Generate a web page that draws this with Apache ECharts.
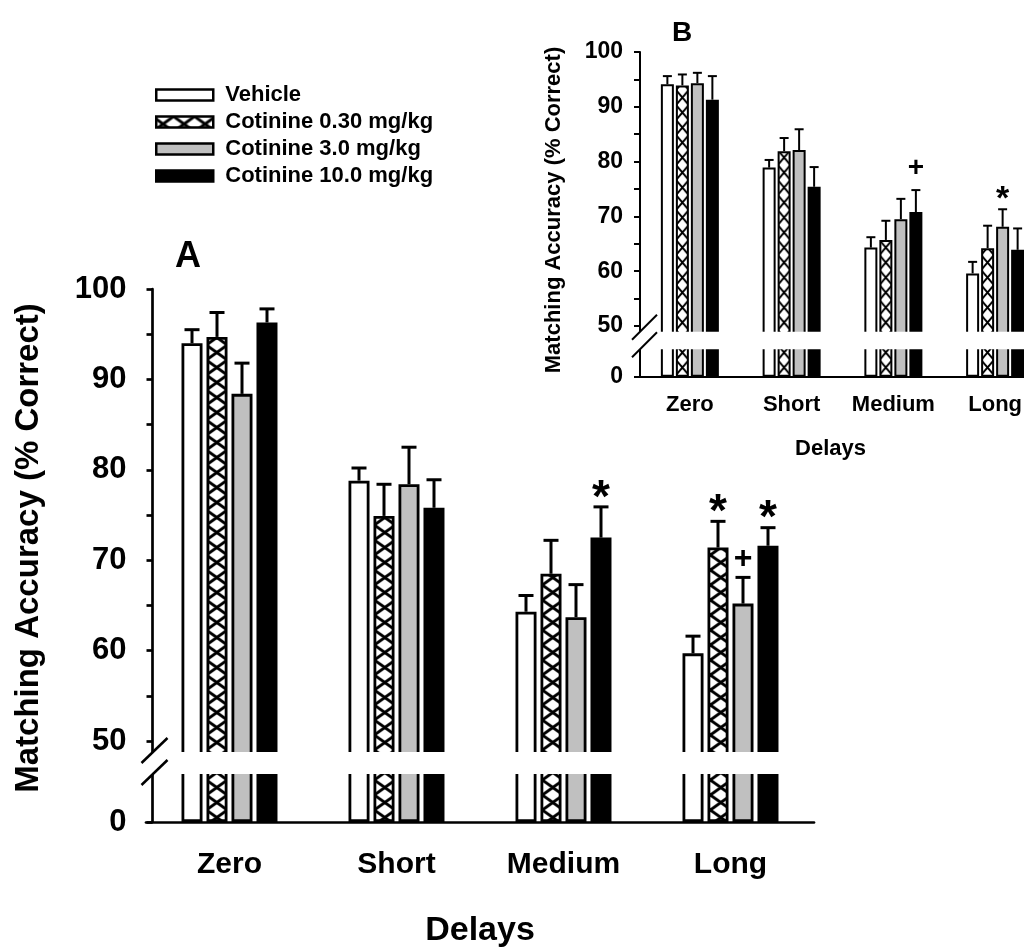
<!DOCTYPE html>
<html>
<head>
<meta charset="UTF-8">
<title>Matching accuracy - cotinine</title>
<script src="https://cdn.jsdelivr.net/npm/echarts@6/dist/echarts.min.js"></script>
<style>
  html, body { margin: 0; padding: 0; background: #fff; }
  #main { width: 1024px; height: 948px; }
</style>
</head>
<body>
<div id="main"></div>
<script>
// ---- data ----
var categories = ['Zero', 'Short', 'Medium', 'Long'];
var groupNames = ['Vehicle', 'Cotinine 0.30 mg/kg', 'Cotinine 3.0 mg/kg', 'Cotinine 10.0 mg/kg'];

// panel A (means, upper SEM, marks)
var aVehicle = [94.0, 78.8, 64.3, 59.7];
var aCot030  = [94.7, 74.9, 68.5, 71.4];
var aCot3    = [88.4, 78.4, 63.7, 65.2];
var aCot10   = [96.3, 75.8, 72.5, 71.6];
var aVehicleSem = [1.5, 1.4, 1.8, 1.9];
var aCot030Sem  = [2.7, 3.5, 3.7, 2.9];
var aCot3Sem    = [3.4, 4.1, 3.6, 2.9];
var aCot10Sem   = [1.5, 3.1, 3.4, 2.0];
var aVehicleSig = ['', '', '', ''];
var aCot030Sig  = ['', '', '', '*'];
var aCot3Sig    = ['', '', '', '+'];
var aCot10Sig   = ['', '', '*', '*'];

// panel B
var bVehicle = [94.1, 78.9, 64.3, 59.6];
var bCot030  = [93.9, 81.9, 65.7, 64.2];
var bCot3    = [94.3, 82.1, 69.5, 68.1];
var bCot10   = [91.3, 75.4, 70.8, 63.9];
var bVehicleSem = [1.5, 1.4, 1.9, 2.1];
var bCot030Sem  = [2.0, 2.4, 3.5, 4.1];
var bCot3Sem    = [1.9, 3.8, 3.7, 3.2];
var bCot10Sem   = [4.3, 3.6, 4.0, 3.9];
var bVehicleSig = ['', '', '', ''];
var bCot030Sig  = ['', '', '', ''];
var bCot3Sig    = ['', '', '', '*'];
var bCot10Sig   = ['', '', '+', ''];

var yTicks  = [50, 55, 60, 65, 70, 75, 80, 85, 90, 95, 100];
var yLabels = [50, 60, 70, 80, 90, 100];
var yLowLabels = [0];

var FONT = '"Liberation Sans", Arial, Helvetica, sans-serif';

// crosshatch fill (white diamonds between black diagonals)
function makeCross(w, h, lw) {
  var c = document.createElement('canvas');
  c.width = w; c.height = h;
  var g = c.getContext('2d');
  g.fillStyle = '#fff';
  g.fillRect(0, 0, w, h);
  g.strokeStyle = '#000';
  g.lineWidth = lw;
  [-w, 0, w].forEach(function (dx) {
    [-h, 0, h].forEach(function (dy) {
      g.beginPath();
      g.moveTo(dx, dy); g.lineTo(dx + w, dy + h);
      g.moveTo(dx + w, dy); g.lineTo(dx, dy + h);
      g.stroke();
    });
  });
  return c;
}
var crossA = { image: makeCross(21, 15, 3), repeat: 'repeat', x: 206.3, y: 0 };
var crossB = { image: makeCross(13, 15, 2), repeat: 'repeat', x: 676, y: 0, scaleX: 0.978 };

// layout of the two panels (each = upper grid 50-100 + lower grid around 0)
var panels = [
  {
    vals: [aVehicle, aCot030, aCot3, aCot10],
    sems: [aVehicleSem, aCot030Sem, aCot3Sem, aCot10Sem],
    sigs: [aVehicleSig, aCot030Sig, aCot3Sig, aCot10Sig],
    fills: ['#fff', crossA, '#c0c0c0', '#000'],
    left: 146, width: 668, top: 289, split: 763, axisY: 822, yMin: 47.57, yOff: -6.5,
    gapTop: 752, gapBot: 774, coverL: 140, coverR: 830,
    barW: 21, barGap: '19%', step: 25, border: 2.8, errW: 3, capW: 15, axisW: 2.7,
    tickFont: 31, labMargin: 26, catFont: 30, catMargin: 28,
    nameFont: 34, nameGap: 92, namePad: [0, 0, 0, 0],
    sigFont: { '*': 46, '+': 32 }, sigDy: { '*': -8, '+': -18 },
    brk: [-11, 11, 15, -14], brkW: 2.5
  },
  {
    vals: [bVehicle, bCot030, bCot3, bCot10],
    sems: [bVehicleSem, bCot030Sem, bCot3Sem, bCot10Sem],
    sigs: [bVehicleSig, bCot030Sig, bCot3Sig, bCot10Sig],
    fills: ['#fff', crossB, '#c0c0c0', '#000'],
    left: 639, width: 407, top: 52, split: 340.5, axisY: 376.7, yMin: 47.35, yOff: -1,
    gapTop: 331.7, gapBot: 349.3, coverL: 630, coverR: 1024,
    barW: 13, barGap: '15.4%', step: 15, border: 2, errW: 2, capW: 9, axisW: 2,
    tickFont: 23, labMargin: 17, catFont: 22, catMargin: 17,
    nameFont: 22, nameGap: 61, namePad: [0, 24, 0, 0],
    sigFont: { '*': 34, '+': 28 }, sigDy: { '*': -10, '+': -22 },
    brk: [-8, 8, 17, -17], brkW: 2
  }
];

function errRenderer(p, i) {
  return function (params, api) {
    var k = api.value(0);
    var base = api.coord([k, api.value(1)]);
    var top = api.coord([k, api.value(1) + api.value(2)]);
    var x = base[0] + (i - 1.5) * p.step;
    var ls = { stroke: '#000', lineWidth: p.errW };
    var kids = [
      { type: 'line', shape: { x1: x, y1: base[1], x2: x, y2: top[1] }, style: ls },
      { type: 'line', shape: { x1: x - p.capW / 2, y1: top[1], x2: x + p.capW / 2, y2: top[1] }, style: ls }
    ];
    var s = p.sigs[i][params.dataIndex];
    if (s) {
      kids.push({
        type: 'text', x: x, y: top[1] + p.sigDy[s],
        style: { text: s, fill: '#000', font: 'bold ' + p.sigFont[s] + 'px ' + FONT, align: 'center', verticalAlign: 'middle' }
      });
    }
    return { type: 'group', children: kids };
  };
}

var grids = [], xAxes = [], yAxes = [], series = [], graphics = [];

panels.forEach(function (p, pi) {
  var gTop = pi * 2, gBot = pi * 2 + 1;
  var line = { color: '#000', width: p.axisW };
  var txt = { color: '#000', fontFamily: FONT, fontWeight: 'bold' };

  grids.push({ left: p.left, width: p.width, top: p.top, height: p.split - p.top, outerBoundsMode: 'none' });
  grids.push({ left: p.left, width: p.width, top: p.split, height: p.axisY - p.split, outerBoundsMode: 'none' });

  xAxes.push({ gridIndex: gTop, type: 'category', data: categories, show: false });
  xAxes.push({
    gridIndex: gBot, type: 'category', data: categories,
    axisLine: { lineStyle: line },
    axisTick: { alignWithLabel: true, length: 6, lineStyle: line },
    axisLabel: Object.assign({ fontSize: p.catFont, margin: p.catMargin, interval: 0, hideOverlap: false }, txt),
    name: 'Delays', nameLocation: 'middle', nameGap: p.nameGap,
    nameTextStyle: Object.assign({ fontSize: p.nameFont, padding: p.namePad }, txt)
  });

  yAxes.push({
    gridIndex: gTop, type: 'value', min: p.yMin, max: 100, offset: p.yOff,
    axisLine: { show: true, lineStyle: line },
    axisTick: { show: true, length: 6, customValues: yTicks, lineStyle: line },
    axisLabel: Object.assign({ customValues: yLabels, fontSize: p.tickFont, margin: p.labMargin }, txt),
    splitLine: { show: false }
  });
  yAxes.push({
    gridIndex: gBot, type: 'value', min: 0, max: 10, offset: p.yOff,
    axisLine: { show: true, lineStyle: line },
    axisTick: { show: true, length: 6, customValues: yLowLabels, lineStyle: line },
    axisLabel: Object.assign({ customValues: yLowLabels, fontSize: p.tickFont, margin: p.labMargin }, txt),
    splitLine: { show: false }
  });

  p.vals.forEach(function (vals, i) {
    var style = { color: p.fills[i], borderColor: '#000', borderWidth: p.border };
    [gTop, gBot].forEach(function (g) {
      series.push({
        type: 'bar', name: groupNames[i], xAxisIndex: g, yAxisIndex: g,
        data: vals, barWidth: p.barW, barGap: p.barGap,
        itemStyle: style, clip: true, silent: true
      });
    });
    series.push({
      type: 'custom', name: 'err' + pi + i, xAxisIndex: gTop, yAxisIndex: gTop, z: 3, silent: true,
      renderItem: errRenderer(p, i),
      data: vals.map(function (v, k) { return [k, v, p.sems[i][k]]; })
    });
  });

  // white band for the axis break + the two slanted marks
  var ax = p.left - p.yOff;
  graphics.push({ type: 'rect', z: 100, silent: true,
    shape: { x: p.coverL, y: p.gapTop, width: p.coverR - p.coverL, height: p.gapBot - p.gapTop },
    style: { fill: '#fff' } });
  [p.gapTop, p.gapBot].forEach(function (y) {
    graphics.push({ type: 'line', z: 101, silent: true,
      shape: { x1: ax + p.brk[0], y1: y + p.brk[1], x2: ax + p.brk[2], y2: y + p.brk[3] },
      style: { stroke: '#000', lineWidth: p.brkW } });
  });
});

// axis titles and panel letters
graphics.push({ type: 'text', x: 29, y: 548, rotation: Math.PI / 2, z: 100,
  style: { text: 'Matching Accuracy (% Correct)', font: 'bold 33px ' + FONT, fill: '#000', align: 'center', verticalAlign: 'middle' } });
graphics.push({ type: 'text', x: 554, y: 210, rotation: Math.PI / 2, z: 100,
  style: { text: 'Matching Accuracy (% Correct)', font: 'bold 22px ' + FONT, fill: '#000', align: 'center', verticalAlign: 'middle' } });
graphics.push({ type: 'text', x: 188, y: 257, z: 100,
  style: { text: 'A', font: 'bold 36px ' + FONT, fill: '#000', align: 'center', verticalAlign: 'middle' } });
graphics.push({ type: 'text', x: 682, y: 33, z: 100,
  style: { text: 'B', font: 'bold 28px ' + FONT, fill: '#000', align: 'center', verticalAlign: 'middle' } });

var myChart = echarts.init(document.getElementById('main'));
var option = {
  animation: false,
  backgroundColor: '#fff',
  legend: {
    data: groupNames, orient: 'vertical', left: 155, top: 84, padding: 0,
    itemWidth: 57, itemHeight: 11, itemGap: 5, icon: 'rect', selectedMode: false,
    itemStyle: { borderColor: '#000', borderWidth: 2.5 },
    textStyle: { color: '#000', fontFamily: FONT, fontWeight: 'bold', fontSize: 22, lineHeight: 22, padding: [0, 0, 0, 7] }
  },
  grid: grids,
  xAxis: xAxes,
  yAxis: yAxes,
  series: series,
  graphic: graphics
};
myChart.setOption(option);
</script>
</body>
</html>
